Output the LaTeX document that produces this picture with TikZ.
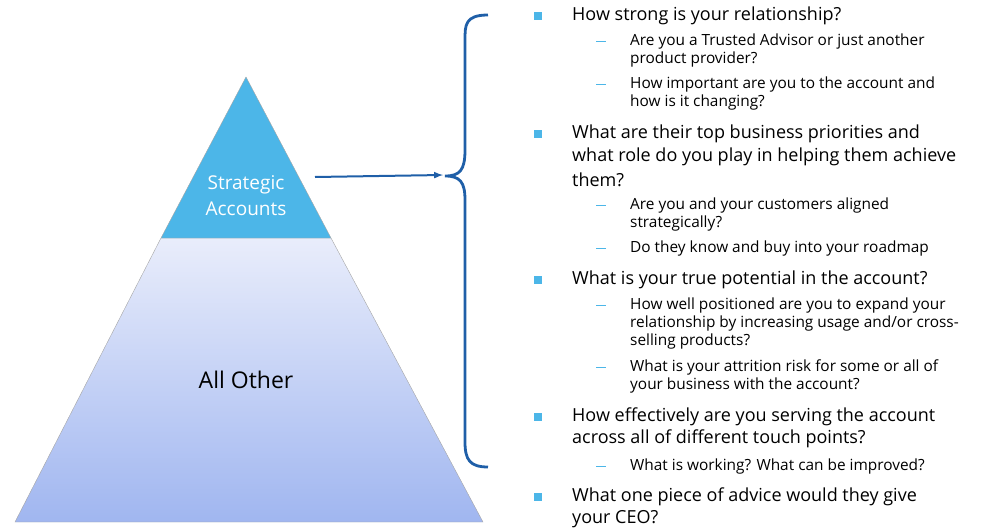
\documentclass[tikz,border=0pt]{standalone}
\usepackage{fontspec}
\setmainfont{Open Sans}
\begin{document}
\begin{tikzpicture}[x=1pt,y=-1pt,
  mainline/.style={anchor=west,inner sep=0pt,font=\fontsize{18}{20}\selectfont},
  subline/.style={anchor=west,inner sep=0pt,font=\fontsize{15.4}{18}\selectfont},
  sq/.style={fill=bul,minimum size=7.5pt,inner sep=0pt},
  dsh/.style={draw=bul,line width=1pt}]
\definecolor{topc}{HTML}{4CB6E8}
\definecolor{lowA}{HTML}{E9EDFB}
\definecolor{lowB}{HTML}{A0B6F0}
\definecolor{bluel}{HTML}{1F5FA8}
\definecolor{bul}{HTML}{4CB6E8}
\useasboundingbox (0,0) rectangle (983,530);
% triangle
\shade[top color=lowA,bottom color=lowB,draw=gray!70] (161,238) -- (331,238) -- (483,522) -- (15,522) -- cycle;
\fill[topc,draw=gray!70] (246,77) -- (331,238) -- (161,238) -- cycle;
\node[align=center,text=white,font=\fontsize{19}{26}\selectfont] (sa) at (246,196) {Strategic\\Accounts};
\node[font=\fontsize{23}{26}\selectfont] (ao) at (246,380) {All Other};
\coordinate (tip) at (445,176);
\coordinate (src) at (315,177);
\draw[bluel,line width=2pt,-latex] (src) -- (443,175);
\draw[bluel,line width=2.8pt] (488,15) .. controls (465,15) and (465,25) .. (465,40) -- (465,150) .. controls (465,170) and (460,176) .. (tip) .. controls (460,176) and (465,182) .. (465,200) -- (465,442) .. controls (465,460) and (470,467) .. (488,467);
% bullets
\foreach \y in {16,134,280,417,497} \node[sq] at (538,\y) {};
\foreach \y in {41,84,205,248,305,367,466} \draw[dsh] (596,\y) -- (606,\y);
\node[mainline] (m1) at (572,16) {How strong is your relationship?};
\node[subline] at (630,41) {Are you a Trusted Advisor or just another};
\node[subline] at (630,59) {product provider?};
\node[subline] at (630,84) {How important are you to the account and};
\node[subline] at (630,102) {how is it changing?};
\node[mainline] at (572,134) {What are their top business priorities and};
\node[mainline] at (572,157) {what role do you play in helping them achieve};
\node[mainline] at (572,180) {them?};
\node[subline] at (630,205) {Are you and your customers aligned};
\node[subline] at (630,223) {strategically?};
\node[subline] at (630,248) {Do they know and buy into your roadmap};
\node[mainline] at (572,280) {What is your true potential in the account?};
\node[subline] at (630,305) {How well positioned are you to expand your};
\node[subline] at (630,323) {relationship by increasing usage and/or cross-};
\node[subline] at (630,341) {selling products?};
\node[subline] at (630,367) {What is your attrition risk for some or all of};
\node[subline] at (630,385) {your business with the account?};
\node[mainline] at (572,417) {How effectively are you serving the account};
\node[mainline] at (572,439) {across all of different touch points?};
\node[subline] at (630,466) {What is working? What can be improved?};
\node[mainline] at (572,497) {What one piece of advice would they give};
\node[mainline] at (572,519) {your CEO?};
\end{tikzpicture}
\end{document}
